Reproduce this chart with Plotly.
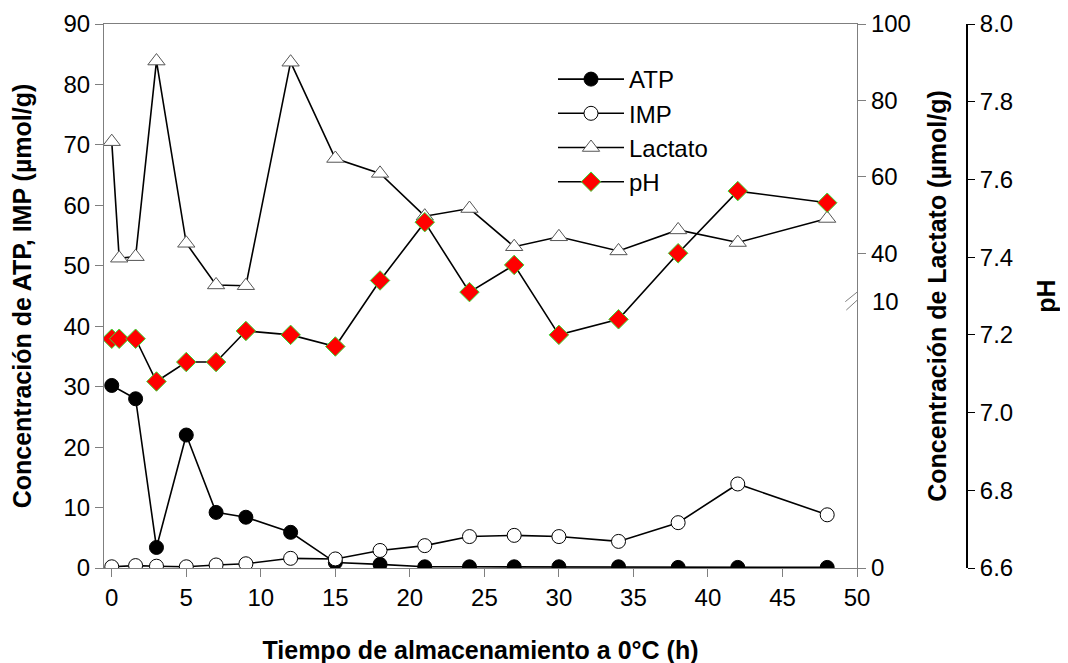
import plotly.graph_objects as go

# ---------------- data ----------------
tiempo_nuc = [0, 1.6, 3, 5, 7, 9, 12, 15, 18, 21, 24, 27, 30, 34, 38, 42, 48]
atp = [30.2, 28.0, 3.4, 22.0, 9.2, 8.4, 5.9, 0.9, 0.6, 0.2, 0.2, 0.2, 0.2, 0.2, 0.1, 0.1, 0.1]
imp = [0.2, 0.4, 0.3, 0.2, 0.5, 0.7, 1.6, 1.5, 2.9, 3.7, 5.2, 5.4, 5.2, 4.4, 7.5, 13.9, 8.8]

tiempo_lac = [0, 0.5, 1.6, 3, 5, 7, 9, 12, 15, 18, 21, 24, 27, 30, 34, 38, 42, 48]
lactato = [69.2, 38.7, 39.1, 90.3, 42.6, 31.7, 31.5, 90.0, 64.8, 60.9, 49.7, 51.7,
           41.7, 44.3, 40.6, 46.1, 42.8, 49.1]
ph = [7.19, 7.19, 7.19, 7.08, 7.13, 7.13, 7.21, 7.20, 7.17, 7.34, 7.49, 7.31,
      7.38, 7.20, 7.24, 7.41, 7.57, 7.54]

x_ticks = [0, 5, 10, 15, 20, 25, 30, 35, 40, 45, 50]
lact_ticks = [0, 40, 60, 80, 100]
ph_ticks = [6.6, 6.8, 7.0, 7.2, 7.4, 7.6, 7.8, 8.0]

# ---------------- broken lactate axis (0-10 | break | 30-100) ----------------
BREAK_LO, BREAK_HI = 10, 30
U_LO, U_HI = 48.95, 50.84          # axis fraction (0-100) at the two break ends


def lact_axis(v):
    if v <= BREAK_LO:
        return v * U_LO / BREAK_LO
    return U_HI + (v - BREAK_HI) * (100 - U_HI) / (100 - BREAK_HI)


FONT = "Liberation Sans, Arial, sans-serif"
GRAY = "#7f7f7f"

fig = go.Figure()
fig.add_trace(go.Scatter(
    x=tiempo_nuc, y=atp, name="ATP", mode="lines+markers",
    line=dict(color="black", width=1.6),
    marker=dict(symbol="circle", size=14, color="black", line=dict(color="black", width=1)),
))
fig.add_trace(go.Scatter(
    x=tiempo_nuc, y=imp, name="IMP", mode="lines+markers",
    line=dict(color="black", width=1.6),
    marker=dict(symbol="circle", size=14, color="white", line=dict(color="black", width=1)),
))
fig.add_trace(go.Scatter(
    x=tiempo_lac, y=[lact_axis(v) for v in lactato], name="Lactato", mode="lines+markers",
    yaxis="y2",
    line=dict(color="black", width=1.6),
    marker=dict(symbol="triangle-up", size=15, color="white", line=dict(color="#555555", width=1)),
))
fig.add_trace(go.Scatter(
    x=tiempo_lac, y=ph, name="pH", mode="lines+markers",
    yaxis="y3",
    line=dict(color="black", width=1.6),
    marker=dict(symbol="diamond", size=15, color="#ff0000", line=dict(color="#33dd33", width=1)),
))

# page body has an 8px margin: compensate so the plot lands where the reference has it
OFF = 8
W, H = 1068, 663
PLOT_L, PLOT_R, PLOT_T, PLOT_B = 104, 857, 24, 568
PAPER_R = 1008
L = PLOT_L - OFF
T = PLOT_T - OFF
R = (W + OFF) - PAPER_R
B = (H + OFF) - PLOT_B
paper_w = PAPER_R - PLOT_L
x_dom_end = (PLOT_R - PLOT_L) / paper_w
ph_pos = (967 - PLOT_L) / paper_w

tickfont = dict(family=FONT, size=24, color="black")
titlefont = dict(family=FONT, size=25, color="black")

fig.update_layout(
    width=W, height=H,
    margin=dict(l=L, r=R, t=T, b=B, autoexpand=False),
    paper_bgcolor="white", plot_bgcolor="white",
    font=dict(family=FONT, size=24, color="black"),
    showlegend=True,
    legend=dict(x=(553 - PLOT_L) / paper_w, y=1 - (57 - PLOT_T) / (PLOT_B - PLOT_T),
                xanchor="left", yanchor="top",
                bgcolor="rgba(0,0,0,0)", font=dict(family=FONT, size=24),
                tracegroupgap=0, itemwidth=66),
    xaxis=dict(
        domain=[0, x_dom_end], range=[-0.52, 50],
        tickvals=x_ticks, ticks="outside", ticklen=8, tickcolor=GRAY,
        showline=True, linecolor=GRAY, linewidth=1.2, mirror=True,
        showgrid=False, zeroline=False, tickfont=tickfont,
        title=dict(text="<b>Tiempo de almacenamiento a 0°C (h)</b>", font=titlefont, standoff=31),
        automargin=False,
    ),
    yaxis=dict(
        range=[0, 90], dtick=10, ticks="outside", ticklen=8, tickcolor=GRAY,
        showline=True, linecolor=GRAY, linewidth=1.2,
        showgrid=False, zeroline=False, tickfont=tickfont,
        title=dict(text="<b>Concentración de ATP, IMP (µmol/g)</b>", font=titlefont, standoff=25),
        automargin=False,
    ),
    yaxis2=dict(
        overlaying="y", anchor="x", side="right",
        range=[0, 100], tickvals=[lact_axis(v) for v in lact_ticks],
        ticktext=[str(v) for v in lact_ticks],
        ticks="outside", ticklen=8, tickcolor=GRAY,
        showline=True, linecolor=GRAY, linewidth=1.2,
        showgrid=False, zeroline=False, tickfont=tickfont,
        title=dict(text="<b>Concentración de Lactato (µmol/g)</b>", font=titlefont, standoff=18),
        automargin=False,
    ),
    yaxis3=dict(
        overlaying="y", anchor="free", position=ph_pos, side="right",
        range=[6.6, 8.0], tickvals=ph_ticks, tickformat=".1f",
        ticks="outside", ticklen=7, tickcolor="black",
        showline=True, linecolor="black", linewidth=2,
        showgrid=False, zeroline=False, tickfont=tickfont,
        title=dict(text="<b>pH</b>", font=titlefont, standoff=24),
        automargin=False,
    ),
)

# label "10" of the lower lactate segment (no tick mark at the break)
fig.add_annotation(
    x=x_dom_end, xref="paper", y=lact_axis(BREAK_LO), yref="y2",
    text="10", showarrow=False, xanchor="left", yanchor="middle",
    xshift=13, font=tickfont,
)

# axis-break symbol "//" on the lactate axis
mid = (U_LO + U_HI) / 2
for (x0, y0, x1, y1) in [(-11.7, -5.1, 10.0, 12.5), (-10.7, -13.5, 10.6, 5.9)]:
    fig.add_shape(
        type="line", xref="x", yref="y2",
        xsizemode="pixel", ysizemode="pixel", xanchor=50, yanchor=mid,
        x0=x0, y0=y0, x1=x1, y1=y1,
        line=dict(color=GRAY, width=1),
    )

fig.write_html("out.html")
